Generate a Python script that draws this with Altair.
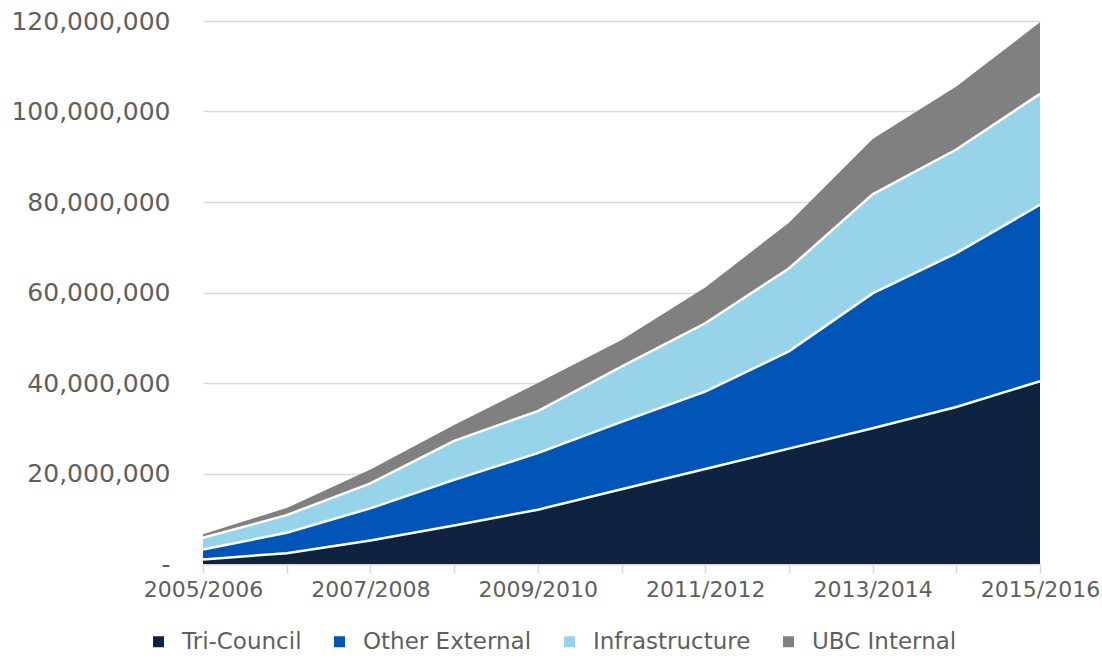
import altair as alt
import pandas as pd
import json

years = ["2005/2006", "2006/2007", "2007/2008", "2008/2009", "2009/2010", "2010/2011",
         "2011/2012", "2012/2013", "2013/2014", "2014/2015", "2015/2016"]
series = ["Tri-Council", "Other External", "Infrastructure", "UBC Internal"]
colors = ["#0f2240", "#0055b7", "#97d4e9", "#808080"]

tri_council = [1.0e6, 2.4e6, 5.2e6, 8.5e6, 12.0e6, 16.5e6, 21.0e6, 25.5e6, 30.0e6, 34.7e6, 40.4e6]
other_external = [2.2e6, 4.5e6, 7.1e6, 10.1e6, 12.5e6, 14.9e6, 17.1e6, 21.5e6, 29.8e6, 34.0e6, 39.0e6]
infrastructure = [2.6e6, 3.9e6, 5.5e6, 8.6e6, 9.3e6, 12.2e6, 15.1e6, 18.3e6, 21.9e6, 22.9e6, 24.5e6]
ubc_internal = [0.8e6, 1.6e6, 3.1e6, 3.5e6, 6.2e6, 5.9e6, 7.9e6, 10.1e6, 12.2e6, 13.9e6, 15.8e6]

values = [tri_council, other_external, infrastructure, ubc_internal]
rows = []
for si, (name, vals) in enumerate(zip(series, values)):
    for yi, (yr, v) in enumerate(zip(years, vals)):
        rows.append({"year": yr, "series": name, "ord": si, "value": v})
df = pd.DataFrame(rows)

FONT = "DejaVu Sans"
TXT = "#5f5f5f"
label_expr = "indexof(" + json.dumps(years) + ", datum.value) % 2 === 0 ? datum.value : ''"

base = alt.Chart(df).transform_window(
    cum="sum(value)", groupby=["year"], sort=[alt.SortField("ord", order="ascending")],
    frame=[None, 0]
).transform_calculate(cum0="datum.cum - datum.value")

x_enc = alt.X("year:N", sort=years, scale=alt.Scale(type="point", padding=0),
              axis=alt.Axis(title=None, labelExpr=label_expr, labelAngle=0,
                            domainColor="#d9d9d9", domainWidth=1.5,
                            tickColor="#d9d9d9", tickWidth=1.5, tickSize=9,
                            labelPadding=6, labelFontSize=22, labelColor=TXT,
                            labelFont=FONT, grid=False))

y_scale = alt.Scale(domain=[0, 120e6], nice=False)

area = base.mark_area(opacity=1).encode(
    x=x_enc,
    y=alt.Y("cum:Q", scale=y_scale,
            axis=alt.Axis(title=None, values=[0, 20e6, 40e6, 60e6, 80e6, 100e6, 120e6],
                          labelExpr="datum.value == 0 ? '-\u00a0' : format(datum.value, ',')",
                          domain=False, ticks=False, labelPadding=33,
                          labelFontSize=25, labelColor=TXT, labelFont=FONT,
                          gridColor="#d9d9d9", gridWidth=1.5)),
    y2="cum0:Q",
    color=alt.Color("series:N", sort=series,
                    scale=alt.Scale(domain=series, range=colors),
                    legend=alt.Legend(title=None, orient="none", direction="horizontal",
                                      legendX=-56, legendY=609, symbolType="square",
                                      symbolSize=121, symbolStrokeWidth=0,
                                      labelFontSize=23, labelColor=TXT, labelLimit=0,
                                      labelFont=FONT, columnPadding=26, labelOffset=12)),
    detail="series:N",
)

lines = base.transform_filter("datum.ord < 3").mark_line(color="white", strokeWidth=2.5).encode(
    x=alt.X("year:N", sort=years),
    y=alt.Y("cum:Q", scale=y_scale),
    detail="series:N",
)

chart = alt.layer(area, lines).properties(
    width=837, height=543,
    autosize=alt.AutoSizeParams(type="none"),
    padding={"left": 203, "top": 21, "right": 62, "bottom": 94},
).configure_view(stroke=None)

chart.save("out.html", embed_options={"renderer": "svg", "actions": False})
